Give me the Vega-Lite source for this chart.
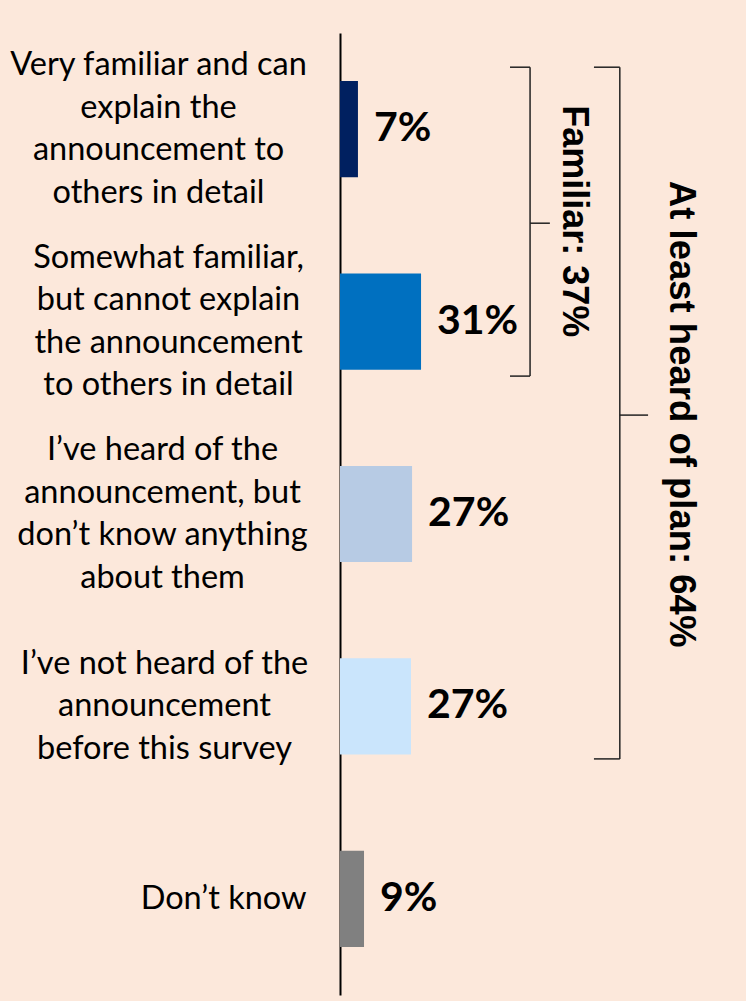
{
  "$schema": "https://vega.github.io/schema/vega-lite/v6.json",
  "width": 406,
  "height": 962,
  "autosize": {"type": "none"},
  "padding": {"left": 340, "top": 33, "right": 0, "bottom": 6},
  "background": "#FCE8DB",
  "config": {"view": {"stroke": null}},
  "datasets": {
    "bars": [
      {"category": "Very familiar and can\nexplain the\nannouncement to\nothers in detail", "value": 6.8, "label": "7%"},
      {"category": "Somewhat familiar,\nbut cannot explain\nthe announcement\nto others in detail", "value": 30.7, "label": "31%"},
      {"category": "I’ve heard of the\nannouncement, but\ndon’t know anything\nabout them", "value": 27.3, "label": "27%"},
      {"category": "I’ve not heard of the\nannouncement\nbefore this survey", "value": 26.9, "label": "27%"},
      {"category": "Don’t know", "value": 9.1, "label": "9%"}
    ],
    "brackets": [
      {"group": "Familiar", "label": "Familiar: 37%"},
      {"group": "At least heard", "label": "At least heard of plan: 64%"}
    ]
  },
  "layer": [
    {
      "data": {"name": "bars"},
      "mark": {"type": "bar"},
      "encoding": {
        "y": {
          "field": "category",
          "type": "nominal",
          "sort": null,
          "scale": {
            "domain": [
              "Very familiar and can\nexplain the\nannouncement to\nothers in detail",
              "Somewhat familiar,\nbut cannot explain\nthe announcement\nto others in detail",
              "I’ve heard of the\nannouncement, but\ndon’t know anything\nabout them",
              "I’ve not heard of the\nannouncement\nbefore this survey",
              "Don’t know"
            ],
            "paddingInner": 0.5,
            "paddingOuter": 0.25
          },
          "axis": {
            "title": null,
            "ticks": false,
            "tickSize": 0,
            "domain": true,
            "domainColor": "#000000",
            "domainWidth": 2,
            "labelExpr": "split(datum.label, '\\n')",
            "labelFont": "Lato",
            "labelFontSize": 32.5,
            "labelColor": "#000000",
            "labelLineHeight": 42.5,
            "labelLimit": 0,
            "labelOverlap": false,
            "labelBaseline": "middle",
            "labelAlign": {"condition": {"test": "datum.index > 0.9", "value": "right"}, "value": "center"},
            "labelPadding": {
              "condition": [
                {"test": "datum.index > 0.9", "value": 34},
                {"test": "datum.index < 0.1", "value": 182},
                {"test": "datum.index > 0.2 && datum.index < 0.3", "value": 172},
                {"test": "datum.index > 0.7 && datum.index < 0.8", "value": 176}
              ],
              "value": 178
            },
            "labelOffset": {
              "condition": [
                {"test": "datum.index > 0.9", "value": 0},
                {"test": "datum.index > 0.7 && datum.index < 0.8", "value": -42.5}
              ],
              "value": -63.75
            }
          }
        },
        "x": {
          "field": "value",
          "type": "quantitative",
          "scale": {"domain": [0, 153.8], "nice": false, "zero": true},
          "axis": null
        },
        "color": {
          "field": "category",
          "type": "nominal",
          "scale": {
            "domain": [
              "Very familiar and can\nexplain the\nannouncement to\nothers in detail",
              "Somewhat familiar,\nbut cannot explain\nthe announcement\nto others in detail",
              "I’ve heard of the\nannouncement, but\ndon’t know anything\nabout them",
              "I’ve not heard of the\nannouncement\nbefore this survey",
              "Don’t know"
            ],
            "range": ["#002060", "#0070C0", "#B7CBE4", "#CAE5FC", "#808080"]
          },
          "legend": null
        }
      }
    },
    {
      "data": {"name": "bars"},
      "mark": {"type": "text", "align": "left", "baseline": "middle", "dx": 16, "font": "Lato", "fontWeight": "bold", "fontSize": 41, "color": "#000000"},
      "encoding": {
        "y": {"field": "category", "type": "nominal"},
        "x": {"field": "value", "type": "quantitative"},
        "text": {"field": "label"}
      }
    },
    {
      "data": {"values": [{}]},
      "mark": {"type": "rule", "color": "#222222", "strokeWidth": 1.5, "yOffset": -62, "y2Offset": 54.5},
      "encoding": {
        "x": {"datum": 72},
        "y": {"datum": "Very familiar and can\nexplain the\nannouncement to\nothers in detail", "type": "nominal"},
        "y2": {"datum": "Somewhat familiar,\nbut cannot explain\nthe announcement\nto others in detail"}
      }
    },
    {
      "data": {"values": [{}]},
      "mark": {"type": "rule", "color": "#222222", "strokeWidth": 1.5, "yOffset": -62},
      "encoding": {
        "x": {"datum": 64.4},
        "x2": {"datum": 72},
        "y": {"datum": "Very familiar and can\nexplain the\nannouncement to\nothers in detail", "type": "nominal"}
      }
    },
    {
      "data": {"values": [{}]},
      "mark": {"type": "rule", "color": "#222222", "strokeWidth": 1.5, "yOffset": 54.5},
      "encoding": {
        "x": {"datum": 64.4},
        "x2": {"datum": 72},
        "y": {"datum": "Somewhat familiar,\nbut cannot explain\nthe announcement\nto others in detail", "type": "nominal"}
      }
    },
    {
      "data": {"values": [{}]},
      "mark": {"type": "rule", "color": "#222222", "strokeWidth": 1.5, "yOffset": 94},
      "encoding": {
        "x": {"datum": 72},
        "x2": {"datum": 79.5},
        "y": {"datum": "Very familiar and can\nexplain the\nannouncement to\nothers in detail", "type": "nominal"}
      }
    },
    {
      "data": {"values": [{}]},
      "mark": {"type": "rule", "color": "#222222", "strokeWidth": 1.5, "yOffset": -62, "y2Offset": 52.5},
      "encoding": {
        "x": {"datum": 106},
        "y": {"datum": "Very familiar and can\nexplain the\nannouncement to\nothers in detail", "type": "nominal"},
        "y2": {"datum": "I’ve not heard of the\nannouncement\nbefore this survey"}
      }
    },
    {
      "data": {"values": [{}]},
      "mark": {"type": "rule", "color": "#222222", "strokeWidth": 1.5, "yOffset": -62},
      "encoding": {
        "x": {"datum": 96.2},
        "x2": {"datum": 106},
        "y": {"datum": "Very familiar and can\nexplain the\nannouncement to\nothers in detail", "type": "nominal"}
      }
    },
    {
      "data": {"values": [{}]},
      "mark": {"type": "rule", "color": "#222222", "strokeWidth": 1.5, "yOffset": 52.5},
      "encoding": {
        "x": {"datum": 96.2},
        "x2": {"datum": 106},
        "y": {"datum": "I’ve not heard of the\nannouncement\nbefore this survey", "type": "nominal"}
      }
    },
    {
      "data": {"values": [{}]},
      "mark": {"type": "rule", "color": "#222222", "strokeWidth": 1.5, "yOffset": 93.5},
      "encoding": {
        "x": {"datum": 106},
        "x2": {"datum": 116.7},
        "y": {"datum": "Somewhat familiar,\nbut cannot explain\nthe announcement\nto others in detail", "type": "nominal"}
      }
    },
    {
      "data": {"name": "brackets"},
      "transform": [{"filter": "datum.group == 'Familiar'"}],
      "mark": {"type": "text", "angle": 90, "align": "center", "baseline": "alphabetic", "font": "Liberation Sans", "fontWeight": "bold", "fontSize": 36, "color": "#000000", "yOffset": 92},
      "encoding": {
        "x": {"datum": 84.5},
        "y": {"datum": "Very familiar and can\nexplain the\nannouncement to\nothers in detail", "type": "nominal"},
        "text": {"field": "label"}
      }
    },
    {
      "data": {"name": "brackets"},
      "transform": [{"filter": "datum.group == 'At least heard'"}],
      "mark": {"type": "text", "angle": 90, "align": "center", "baseline": "alphabetic", "font": "Liberation Sans", "fontWeight": "bold", "fontSize": 36.5, "color": "#000000", "yOffset": 92.5},
      "encoding": {
        "x": {"datum": 125},
        "y": {"datum": "Somewhat familiar,\nbut cannot explain\nthe announcement\nto others in detail", "type": "nominal"},
        "text": {"field": "label"}
      }
    }
  ]
}
